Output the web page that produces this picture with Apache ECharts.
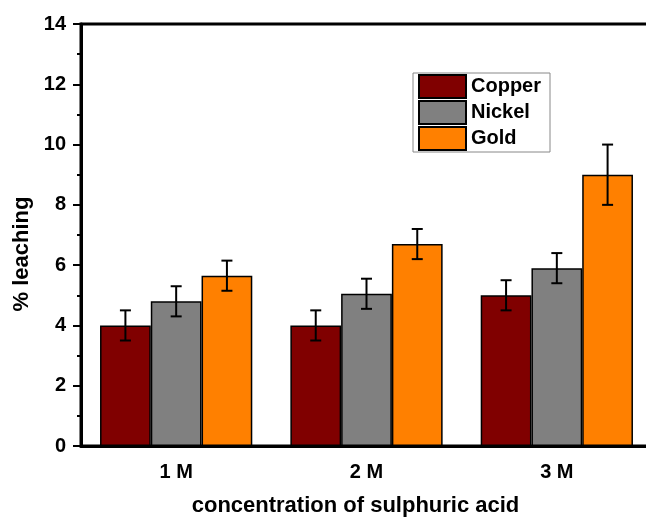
<!DOCTYPE html>
<html>
<head>
<meta charset="utf-8">
<script src="https://cdn.jsdelivr.net/npm/echarts@6/dist/echarts.min.js"></script>
<style>html,body{margin:0;padding:0;background:#fff;}#c{width:646px;height:519px;}</style>
</head>
<body>
<div id="c"></div>
<script>
const categories = ['1 M', '2 M', '3 M'];
const seriesNames = ['Copper', 'Nickel', 'Gold'];
const copper = [4.0, 4.0, 5.0];
const nickel = [4.8, 5.05, 5.9];
const gold = [5.65, 6.7, 9.0];
const copperErr = [0.5, 0.5, 0.5];
const nickelErr = [0.5, 0.5, 0.5];
const goldErr = [0.5, 0.5, 1.0];
const yTicks = [0, 2, 4, 6, 8, 10, 12, 14];

const FONT = "'Liberation Sans', Arial, sans-serif";
const colors = ['#800000', '#808080', '#FF8000'];
const values = [copper, nickel, gold];
const errs = [copperErr, nickelErr, goldErr];
const CAT_GAP = 0.2;

function errRender(idx) {
  return function (params, api) {
    const ci = api.value(0);
    const lo = api.value(1), hi = api.value(2);
    const band = api.size([1, 0])[0];
    const bw = band * (1 - CAT_GAP) / 3;
    const off = (idx - 1) * bw;
    const pHi = api.coord([ci, hi]);
    const pLo = api.coord([ci, lo]);
    const x = pHi[0] + off;
    const cap = 5.5;
    const st = { stroke: '#000', lineWidth: 2 };
    return {
      type: 'group',
      children: [
        { type: 'line', shape: { x1: x, y1: pHi[1], x2: x, y2: pLo[1] }, style: st },
        { type: 'line', shape: { x1: x - cap, y1: pHi[1], x2: x + cap, y2: pHi[1] }, style: st },
        { type: 'line', shape: { x1: x - cap, y1: pLo[1], x2: x + cap, y2: pLo[1] }, style: st }
      ]
    };
  };
}

const series = [];
seriesNames.forEach((n, i) => {
  series.push({
    name: n, type: 'bar', xAxisIndex: 0, data: values[i],
    barGap: '0%', barCategoryGap: (CAT_GAP * 100) + '%',
    itemStyle: { color: colors[i], borderColor: '#000', borderWidth: 1.5 },
    emphasis: { disabled: true }, z: 2
  });
});
seriesNames.forEach((n, i) => {
  series.push({
    name: n + ' error', type: 'custom', xAxisIndex: 0,
    data: values[i].map((v, k) => [k, v - errs[i][k], v + errs[i][k]]),
    renderItem: errRender(i), z: 5, silent: true
  });
});

const chart = echarts.init(document.getElementById('c'), null, { renderer: 'canvas' });
chart.setOption({
  animation: false,
  backgroundColor: '#fff',
  textStyle: { fontFamily: FONT },
  grid: { left: 81, top: 24, height: 422, width: 571, outerBoundsMode: 'none', containLabel: false, show: true, borderColor: '#000', borderWidth: 3, backgroundColor: 'transparent' },
  legend: {
    data: seriesNames, orient: 'vertical', left: 413, top: 73,
    padding: [1, 9, 1, 5], itemGap: 1, itemWidth: 47, itemHeight: 23,
    borderColor: '#888', borderWidth: 1, icon: 'rect',
    itemStyle: { borderColor: '#000', borderWidth: 2 },
    textStyle: { fontFamily: FONT, fontWeight: 'bold', fontSize: 20, color: '#000' },
    selectedMode: false
  },
  xAxis: [
    {
      type: 'category', data: categories, position: 'bottom',
      name: 'concentration of sulphuric acid', nameLocation: 'middle', nameGap: 49,
      nameTextStyle: { fontFamily: FONT, fontWeight: 'bold', fontSize: 22, color: '#000', padding: [0, 22, 0, 0] },
      axisLine: { lineStyle: { color: '#000', width: 3 } },
      axisTick: { alignWithLabel: true, length: 8, lineStyle: { color: '#000', width: 2 } },
      axisLabel: { fontFamily: FONT, fontWeight: 'bold', fontSize: 20, color: '#000', margin: 16 },
      splitLine: { show: false }
    },
    {
      type: 'category', data: categories, position: 'bottom', offset: 0,
      axisLine: { show: false },
      axisTick: { length: 4, lineStyle: { color: '#000', width: 2 } },
      axisLabel: { show: false },
      splitLine: { show: false }
    }
  ],
  yAxis: {
    type: 'value', min: yTicks[0], max: yTicks[yTicks.length - 1], interval: 2,
    name: '% leaching', nameLocation: 'middle', nameGap: 47,
    nameTextStyle: { fontFamily: FONT, fontWeight: 'bold', fontSize: 22, color: '#000', padding: [0, 38, 0, 0] },
    axisLine: { show: true, lineStyle: { color: '#000', width: 3 } },
    axisTick: { show: true, length: 8, lineStyle: { color: '#000', width: 2 } },
    minorTick: { show: true, splitNumber: 2, length: 4, lineStyle: { color: '#000', width: 2 } },
    axisLabel: { fontFamily: FONT, fontWeight: 'bold', fontSize: 20, color: '#000', margin: 15 },
    splitLine: { show: false }
  },
  series: series
});
</script>
</body>
</html>
